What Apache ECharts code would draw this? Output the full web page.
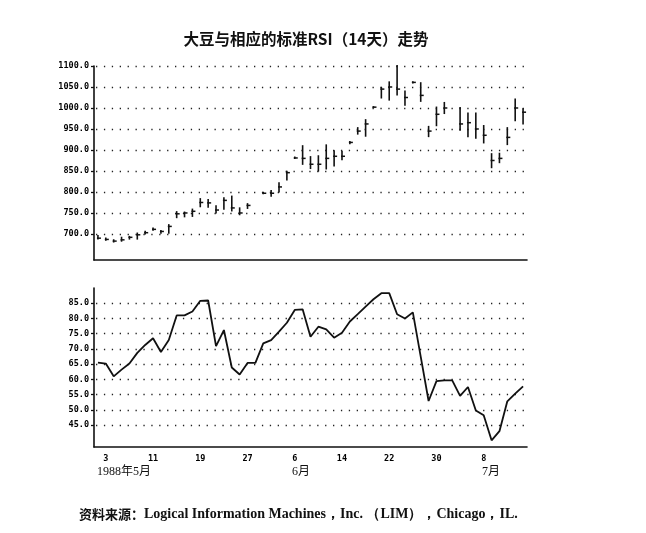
<!DOCTYPE html>
<html>
<head>
<meta charset="utf-8">
<script src="https://cdn.jsdelivr.net/npm/echarts@6/dist/echarts.min.js"></script>
<style>
  html, body { margin: 0; padding: 0; background: #fff; }
  #main { width: 646px; height: 533px; }
</style>
</head>
<body>
<div id="main"></div>
<script>
// 交易日序号 0..54，1988年5月2日 ~ 7月15日（工作日）
var dayLabels = ['2','3','4','5','6','9','10','11','12','13','16','17','18','19','20','23','24','25','26','27','30','31',
  '1','2','3','6','7','8','9','10','13','14','15','16','17','20','21','22','23','24','27','28','29','30',
  '1','4','5','6','7','8','11','12','13','14','15'];

// 大豆价格（最高、最低、收盘），节假日为空
var highs  = [696,690,686,692,694,702,706,714,708,722,753,752,759,784,782,767,786,790,762,772,null,799,803,822,849,883,910,884,886,912,898,897,920,953,972,1003,1049,1062,1101,1040,1062,1060,956,1002,1013,null,1001,988,988,958,891,892,953,1021,998];
var lows   = [688,685,681,683,688,688,700,709,702,702,739,741,742,765,764,750,759,755,746,761,null,796,790,800,829,880,866,856,850,855,862,877,915,938,933,1001,1024,1019,1031,1007,1060,1016,932,958,987,null,947,932,928,917,858,870,913,970,962];
var closes = [690,687,683,686,692,698,703,711,706,718,748,750,754,775,774,757,780,762,750,768,null,797,797,812,846,881,880,866,866,880,885,885,918,945,962,1002,1045,1050,1045,1025,1061,1030,945,985,1000,null,962,965,950,935,875,880,930,1000,990];

// 14天标准RSI
var rsi = [65.5,65.2,61.0,63.2,65.2,68.7,71.3,73.5,69.0,72.9,81.0,81.0,82.3,85.8,85.9,70.9,76.2,63.9,61.6,65.4,65.4,
  71.8,72.9,75.7,78.6,82.8,83.0,74.0,77.3,76.4,73.7,75.3,79.0,81.4,83.9,86.3,88.3,88.3,81.4,80.0,82.0,67.5,
  52.9,59.4,59.7,59.7,54.6,57.5,49.8,48.2,40.0,43.0,52.8,55.3,57.7];

var priceTicks = [700, 750, 800, 850, 900, 950, 1000, 1050, 1100];
var rsiTicks = [45, 50, 55, 60, 65, 70, 75, 80, 85];

var barData = [];
highs.forEach(function (h, i) {
    if (h != null) barData.push([i, h, lows[i], closes[i]]);
});

var myChart = echarts.init(document.getElementById('main'));

var monoLabel = {
    fontFamily: 'DejaVu Sans Mono',
    fontWeight: 'bold',
    fontSize: 8.5,
    color: '#000'
};

function dottedSplit() {
    return {
        show: true,
        lineStyle: { color: '#222', width: 1.3, type: [1.3, 6.6], dashOffset: -2 }
    };
}

var option = {
    backgroundColor: '#fff',
    animation: false,
    title: {
        text: '大豆与相应的标准RSI（14天）走势',
        left: 301,
        top: 26,
        textAlign: 'center',
        textStyle: { fontFamily: 'Noto Sans CJK SC', fontWeight: 'bold', fontSize: 15.5, color: '#111' }
    },
    grid: [
        { left: 94, width: 433, top: 66, height: 194 },
        { left: 94, width: 433, top: 288, height: 159 }
    ],
    xAxis: [{
        type: 'category',
        gridIndex: 0,
        data: dayLabels,
        boundaryGap: true,
        axisLine: { lineStyle: { color: '#111', width: 1.6 } },
        axisTick: {
            inside: true, length: 4, alignWithLabel: true,
            lineStyle: { color: '#111', width: 1.3 },
            interval: function (index) { return index % 3 === 1; }
        },
        axisLabel: { show: false },
        splitLine: { show: false }
    }, {
        type: 'category',
        gridIndex: 1,
        data: dayLabels,
        boundaryGap: true,
        axisLine: { lineStyle: { color: '#111', width: 1.6 } },
        axisTick: {
            inside: true, length: 4, alignWithLabel: true,
            lineStyle: { color: '#111', width: 1.3 },
            interval: function (index) { return index % 3 === 1; }
        },
        axisLabel: Object.assign({
            margin: 7,
            interval: function (index) { return index % 6 === 1; }
        }, monoLabel),
        splitLine: { show: false }
    }],
    yAxis: [{
        type: 'value',
        gridIndex: 0,
        min: 638,
        max: 1100,
        axisLine: { show: true, lineStyle: { color: '#111', width: 1.6 } },
        axisTick: { show: true, length: 3, customValues: priceTicks, lineStyle: { color: '#111', width: 1.3 } },
        axisLabel: Object.assign({
            margin: 5,
            customValues: priceTicks,
            formatter: function (v) { return v.toFixed(1); }
        }, monoLabel),
        splitLine: dottedSplit()
    }, {
        type: 'value',
        gridIndex: 1,
        min: 37.8,
        max: 90,
        axisLine: { show: true, lineStyle: { color: '#111', width: 1.6 } },
        axisTick: { show: true, length: 3, customValues: rsiTicks, lineStyle: { color: '#111', width: 1.3 } },
        axisLabel: Object.assign({
            margin: 5,
            customValues: rsiTicks,
            formatter: function (v) { return v.toFixed(1); }
        }, monoLabel),
        splitLine: dottedSplit()
    }],
    series: [{
        name: '大豆',
        type: 'custom',
        xAxisIndex: 0,
        yAxisIndex: 0,
        data: barData,
        renderItem: function (params, api) {
            var x = api.value(0);
            var hi = api.coord([x, api.value(1)]);
            var lo = api.coord([x, api.value(2)]);
            var cl = api.coord([x, api.value(3)]);
            return {
                type: 'group',
                children: [{
                    type: 'line',
                    shape: { x1: hi[0], y1: hi[1] - 0.6, x2: lo[0], y2: lo[1] + 0.6 },
                    style: { stroke: '#111', lineWidth: 1.6 }
                }, {
                    type: 'line',
                    shape: { x1: cl[0] - 1, y1: cl[1], x2: cl[0] + 3, y2: cl[1] },
                    style: { stroke: '#111', lineWidth: 1.5 }
                }]
            };
        }
    }, {
        name: 'RSI',
        type: 'line',
        xAxisIndex: 1,
        yAxisIndex: 1,
        data: rsi,
        symbol: 'none',
        lineStyle: { color: '#111', width: 1.8 }
    }],
    graphic: [{
        type: 'text', left: 97, top: 466,
        style: { text: '1988年5月', font: '12px "Liberation Serif", "Noto Sans CJK SC"', fill: '#111' }
    }, {
        type: 'text', left: 292, top: 466,
        style: { text: '6月', font: '12px "Liberation Serif", "Noto Sans CJK SC"', fill: '#111' }
    }, {
        type: 'text', left: 482, top: 466,
        style: { text: '7月', font: '12px "Liberation Serif", "Noto Sans CJK SC"', fill: '#111' }
    }, {
        type: 'text', left: 79, top: 507,
        style: {
            text: '{a|资料来源：}{b|Logical Information Machines，Inc. （LIM），Chicago，IL.}',
            rich: {
                a: { fontFamily: 'Noto Sans CJK SC', fontWeight: 'bold', fontSize: 13, fill: '#111' },
                b: { fontFamily: 'Liberation Serif', fontWeight: 'bold', fontSize: 14, fill: '#111' }
            }
        }
    }]
};

myChart.setOption(option);
</script>
</body>
</html>
